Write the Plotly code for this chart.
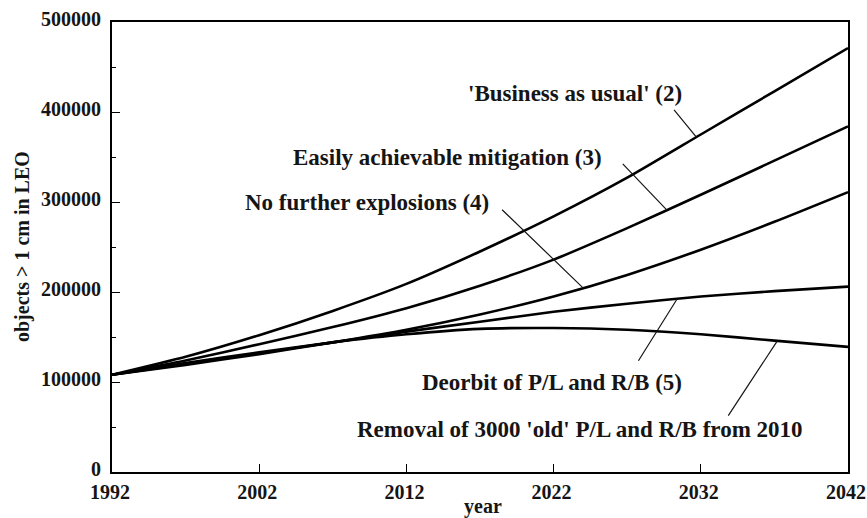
import numpy as np
import plotly.graph_objects as go

years = [1992, 1997, 2002, 2007, 2012, 2017, 2022, 2027, 2032, 2037, 2042]
business_as_usual = [108000, 128000, 152000, 179000, 209000, 245000, 284000, 327000, 375000, 423000, 471000]
easy_mitigation = [108000, 124000, 142000, 161000, 182000, 207000, 236000, 271000, 308000, 346000, 384000]
no_explosions = [108000, 119000, 131000, 144000, 158000, 175000, 195000, 219000, 247000, 278000, 311000]
deorbit = [108000, 120000, 132000, 144000, 156000, 167000, 178000, 187000, 195000, 201000, 206000]
removal = [108000, 121000, 133000, 144000, 153000, 159000, 160000, 158000, 153000, 146000, 139000]

series = [business_as_usual, easy_mitigation, no_explosions, deorbit, removal]

labels = ["'Business as usual' (2)", "Easily achievable mitigation (3)",
          "No further explosions (4)", "Deorbit of P/L and R/B (5)",
          "Removal of 3000 'old' P/L and R/B from 2010"]
label_pos = [(2023.45, 421000), (2014.8, 350000), (2009.3, 299000), (2021.9, 100000), (2023.8, 47000)]
leader_year = [2031.7, 2029.7, 2024.0, 2030.4, 2037.2]
leader_tail = [(2030.1, 404000), (2026.6, 344000), (2018.4, 293000), (2027.7, 122000), (2033.8, 61000)]

y_ticks = [0, 100000, 200000, 300000, 400000, 500000]
x_ticks = [1992, 2002, 2012, 2022, 2032, 2042]

FONT = "Liberation Serif"
INK = "#151515"
W, H = 867, 518
ML, MR, MT, MB = 112, 19, 22, 46

fig = go.Figure()
for s in series:
    fig.add_trace(go.Scatter(x=years, y=s, mode="lines",
                             line=dict(color="black", width=2.6, shape="spline", smoothing=0.6),
                             showlegend=False, hoverinfo="skip"))

for lab, (lx, ly), yr, (tx, ty), s in zip(labels, label_pos, leader_year, leader_tail, series):
    fig.add_annotation(x=lx, y=ly, xref="x", yref="y", text="<b>%s</b>" % lab, showarrow=False,
                       font=dict(family=FONT, size=23, color=INK), xanchor="center", yanchor="middle")
    hy = float(np.interp(yr, years, s))
    fig.add_annotation(x=yr, y=hy, ax=tx, ay=ty, xref="x", yref="y", axref="x", ayref="y",
                       text="", showarrow=True, arrowhead=0, arrowwidth=1.2, arrowcolor=INK)

pw, ph = W - ML - MR, H - MT - MB
# axis titles
fig.add_annotation(x=(22 - ML) / pw, y=0.5, xref="paper", yref="paper", text="<b>objects > 1 cm in LEO</b>",
                   textangle=-90, showarrow=False, font=dict(family=FONT, size=20, color=INK),
                   xanchor="center", yanchor="middle")
fig.add_annotation(x=(483 - ML) / pw, y=-(506 - (H - MB)) / ph, xref="paper", yref="paper", text="<b>year</b>",
                   showarrow=False, font=dict(family=FONT, size=20, color=INK),
                   xanchor="center", yanchor="middle")

fig.update_layout(
    width=W, height=H,
    margin=dict(l=ML, r=MR, t=MT, b=MB),
    paper_bgcolor="white", plot_bgcolor="white",
    font=dict(family=FONT, size=20, color=INK),
)
fig.update_xaxes(range=[1992, 2042], tickvals=x_ticks, ticktext=["<b>%d</b>" % v for v in x_ticks],
                 showgrid=False, zeroline=False, showline=True, linecolor="black", linewidth=2, mirror=True,
                 ticks="inside", ticklen=8, tickwidth=1.2, tickcolor="black", automargin=False,
                 ticklabeloverflow="allow", ticklabelstandoff=1, ticklabelshift=-2,
                 tickfont=dict(family=FONT, size=20, color=INK))
fig.update_yaxes(range=[0, 500000], tickvals=y_ticks, ticktext=["<b>%d</b>" % v for v in y_ticks],
                 showgrid=False, zeroline=False, showline=True, linecolor="black", linewidth=2, mirror=True,
                 ticks="inside", ticklen=8, tickwidth=1.2, tickcolor="black", automargin=False,
                 ticklabeloverflow="allow", ticklabelstandoff=5, ticklabelshift=-3,
                 minor=dict(dtick=50000, ticks="inside", ticklen=4, tickcolor="black", tickwidth=1, showgrid=False),
                 tickfont=dict(family=FONT, size=20, color=INK))

fig.write_html("out.html", config={"displayModeBar": False},
               post_script="document.body.style.margin='0';document.body.style.overflow='hidden';")
